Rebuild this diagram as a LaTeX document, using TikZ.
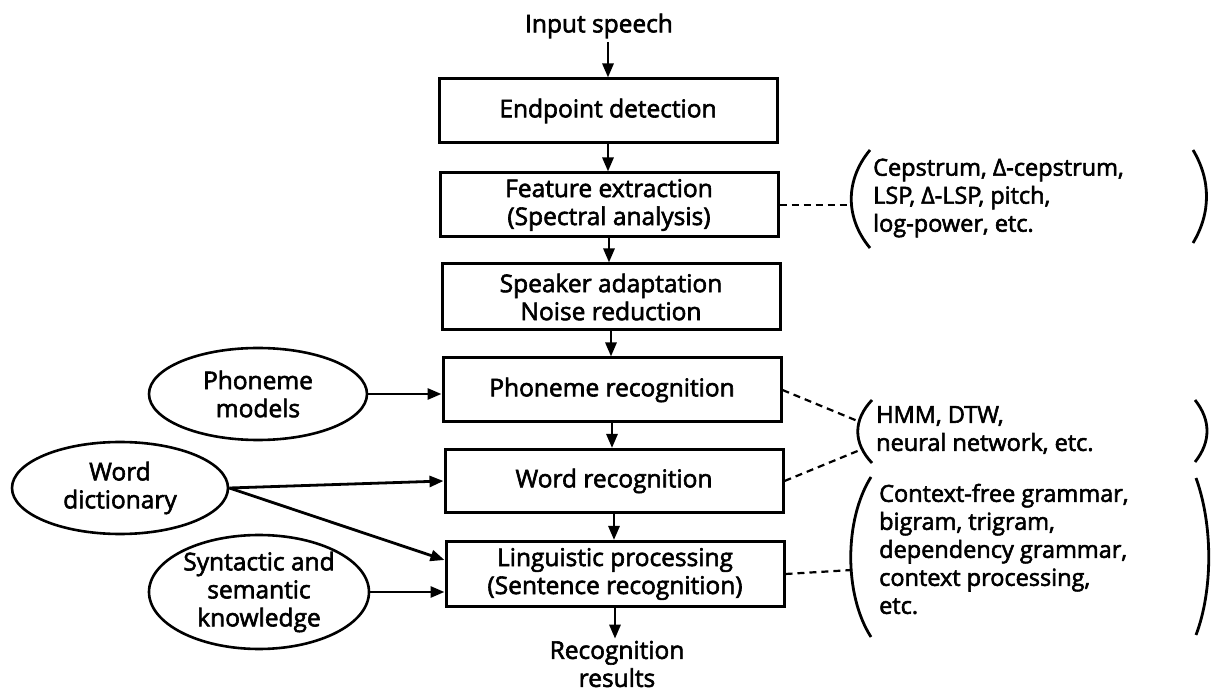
\documentclass[tikz,border=0pt]{standalone}
\usepackage{fontspec}
\newfontfamily\dfont{Open Sans}[FakeBold=2.4]
\usetikzlibrary{shapes.geometric,arrows.meta}
\begin{document}
\begin{tikzpicture}[x=1pt,y=-1pt,
  box/.style={draw,line width=3pt,minimum width=338pt,align=center,inner sep=0pt},
  ell/.style={draw,line width=2.6pt,ellipse,inner sep=0pt,align=center},
  arr/.style={line width=2.8pt,-{Triangle[length=14pt,width=11pt]}},
  dsh/.style={line width=2.2pt,dash pattern=on 7pt off 5pt},
  paren/.style={line width=2.8pt},
  txt/.style={align=left,inner sep=0pt,anchor=west,font=\dfont\fontsize{23.5}{28}\selectfont},
  font=\dfont\fontsize{24.5}{28}\selectfont]
\useasboundingbox (0,0) rectangle (1211,692);
% main column
\node (in) at (599,26) {Input speech};
\node[box,minimum height=64pt] (ep) at (608,111) {Endpoint detection};
\node[box,minimum height=64pt] (fe) at (609,205) {Feature extraction\\(Spectral analysis)};
\node[box,minimum height=66pt] (sa) at (611,297) {Speaker adaptation\\Noise reduction};
\node[box,minimum height=64pt] (pr) at (612,390) {Phoneme recognition};
\node[box,minimum height=63pt] (wr) at (614,481) {Word recognition};
\node[box,minimum height=65pt] (lp) at (615,574) {Linguistic processing\\(Sentence recognition)};
\node[align=center,inner sep=2pt] (rr) at (617,664) {Recognition\\results};
\draw[arr] (in.south -| ep.north) -- (ep.north);
\draw[arr] (ep.south) -- (ep.south |- fe.north);
\draw[arr] (fe.south) -- (fe.south |- sa.north);
\draw[arr] (sa.south) -- (sa.south |- pr.north);
\draw[arr] (pr.south) -- (pr.south |- wr.north);
\draw[arr] (wr.south) -- (wr.south |- lp.north);
\draw[arr] (lp.south) -- (lp.south |- rr.north);
% knowledge sources
\node[ell,minimum width=218pt,minimum height=92pt] (pm) at (258,394) {Phoneme\\models};
\node[ell,inner sep=-4pt,minimum width=216pt,minimum height=92pt] (wd) at (120,488) {Word\\dictionary};
\node[ell,inner sep=-8pt,minimum width=220pt,minimum height=114pt] (sk) at (259,592) {Syntactic and\\semantic\\knowledge};
\draw[arr] (pm.east) -- (pm.east -| pr.west);
\draw[arr] (wd.east) -- (wr.west);
\draw[arr] (wd.east) -- ([yshift=14pt]lp.west);
\draw[arr] (sk.east) -- (sk.east -| lp.west);
% annotations
\node[txt] (ft) at (873,198) {Cepstrum, Δ-cepstrum,\\LSP, Δ-LSP, pitch,\\log-power, etc.};
\node[txt] (ht) at (876,430) {HMM, DTW,\\neural network, etc.};
\node[txt] (lt) at (879,549) {Context-free grammar,\\bigram, trigram,\\dependency grammar,\\context processing,\\etc.};
\coordinate (fpl) at (849,205);
\coordinate (hpa) at (860,422);
\coordinate (hpb) at (860,450);
\coordinate (lpl) at (852,570);
\draw[dsh] (fe.east) -- (fpl);
\draw[dsh] (pr.east) -- (hpa);
\draw[dsh] (wr.east) -- (hpb);
\draw[dsh] (lp.east) -- (lpl);
% parentheses
\draw[paren] (870,150) .. controls (845,180) and (845,218) .. (870,248);
\draw[paren] (1193,150) .. controls (1211,180) and (1211,213) .. (1193,243);
\draw[paren] (872,400) .. controls (853,420) and (853,443) .. (872,463);
\draw[paren] (1195,400) .. controls (1211,420) and (1211,442) .. (1195,462);
\draw[paren] (871,477) .. controls (844,520) and (844,595) .. (871,637);
\draw[paren] (1196,478) .. controls (1213,525) and (1213,590) .. (1196,635);
\end{tikzpicture}
\end{document}
